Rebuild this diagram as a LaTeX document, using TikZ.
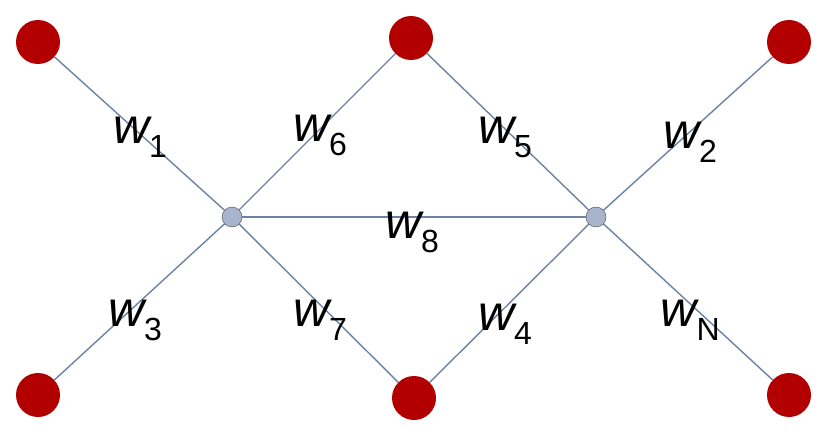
\documentclass[tikz,border=0pt]{standalone}
\usepackage{fontspec}
\setmainfont{Liberation Sans}
\newcommand{\wt}[1]{{\itshape w}\raisebox{-0.28em}{\fontsize{32}{32}\selectfont #1}}
\begin{document}
\begin{tikzpicture}[x=1pt,y=-1pt,
    leaf/.style={circle,fill={rgb,255:red,178;green,0;blue,0},minimum size=44pt,inner sep=0pt},
    hub/.style={circle,draw={rgb,255:red,70;green,70;blue,80},fill={rgb,255:red,168;green,180;blue,204},minimum size=20pt,inner sep=0pt},
    edge/.style={draw={rgb,255:red,110;green,130;blue,165},line width=1.4pt},
    wlabel/.style={font=\fontsize{50}{50}\selectfont,inner sep=0pt}]
    \useasboundingbox (0,0) rectangle (830,441);

    % leaves
    \node [leaf] (tl) at (38,42) {};
    \node [leaf] (tm) at (411,38) {};
    \node [leaf] (tr) at (789,42) {};
    \node [leaf] (bl) at (38,395) {};
    \node [leaf] (bm) at (414,398) {};
    \node [leaf] (br) at (789,395) {};
    % hubs
    \node [hub] (hl) at (232,217) {};
    \node [hub] (hr) at (596,217) {};

    % edges
    \path [edge] (tl) -- (hl);
    \path [edge] (tm) -- (hl);
    \path [edge] (bl) -- (hl);
    \path [edge] (bm) -- (hl);
    \path [edge] (hl) -- (hr);
    \path [edge] (tm) -- (hr);
    \path [edge] (tr) -- (hr);
    \path [edge] (bm) -- (hr);
    \path [edge] (br) -- (hr);

    % weights
    \node [wlabel] (w1) at (140,137) {\wt{1}};
    \node [wlabel] (w6) at (320,135) {\wt{6}};
    \node [wlabel] (w5) at (505,137) {\wt{5}};
    \node [wlabel] (w2) at (690,142) {\wt{2}};
    \node [wlabel] (w8) at (412,232) {\wt{8}};
    \node [wlabel] (w3) at (135,320) {\wt{3}};
    \node [wlabel] (w7) at (320,320) {\wt{7}};
    \node [wlabel] (w4) at (505,324) {\wt{4}};
    \node [wlabel] (wN) at (690,320) {\wt{N}};
\end{tikzpicture}
\end{document}
